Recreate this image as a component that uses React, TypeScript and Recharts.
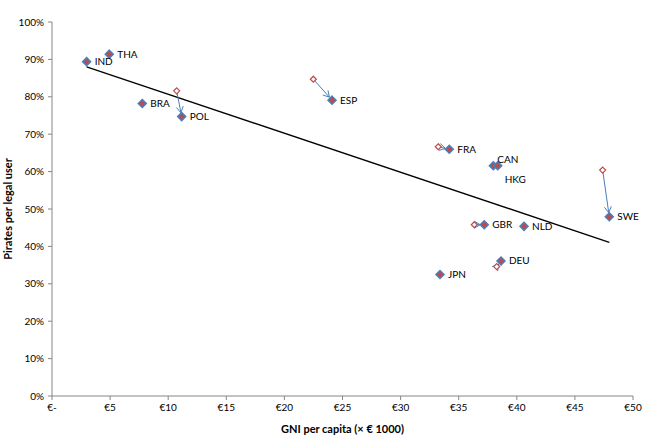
import React from "react"
import {
  ScatterChart,
  Scatter,
  XAxis,
  YAxis,
  ReferenceLine,
  LabelList,
} from "recharts"

// current position per country (GNI per capita in € 1000, pirates per legal user in %)
const countries = ["IND", "THA", "BRA", "POL", "ESP", "FRA", "CAN", "HKG", "GBR", "NLD", "DEU", "JPN", "SWE"]
const gniNow = [2.98, 4.93, 7.77, 11.16, 24.1, 34.19, 37.98, 38.36, 37.2, 40.62, 38.64, 33.39, 47.96]
const piratesNow = [89.4, 91.4, 78.2, 74.7, 79.1, 65.96, 61.58, 61.58, 45.8, 45.37, 36.1, 32.5, 47.94]

// earlier position for the countries that moved
const movedCountries = ["POL", "ESP", "FRA", "GBR", "DEU", "SWE"]
const gniBefore = [10.73, 22.49, 33.24, 36.34, 38.27, 47.39]
const piratesBefore = [81.6, 84.7, 66.65, 45.8, 34.6, 60.4]

// trend line end points
const trendGni = [2.98, 47.96]
const trendPirates = [88.0, 41.1]

const xTicks = [0, 5, 10, 15, 20, 25, 30, 35, 40, 45, 50]
const yTicks = [0, 10, 20, 30, 40, 50, 60, 70, 80, 90, 100]

const nowData = countries.map((c, i) => ({ x: gniNow[i], y: piratesNow[i], label: c }))
const beforeData = movedCountries.map((c, i) => ({ x: gniBefore[i], y: piratesBefore[i], label: c }))

const BLUE = "#4a7ebb"
const RED = "#be4b48"
const AXIS = "#868686"
const FONT = "Lato, 'Liberation Sans', sans-serif"

// label nudges where the default right-hand placement would overlap
const labelNudge: Record<string, [number, number]> = {
  CAN: [-4, -6],
  HKG: [-1, 14],
}

const Diamond = (props: any) => {
  const { cx, cy } = props
  const r = 4
  return (
    <path
      d={`M${cx},${cy - r}L${cx + r},${cy}L${cx},${cy + r}L${cx - r},${cy}Z`}
      fill={RED}
      stroke={BLUE}
      strokeWidth={1.5}
    />
  )
}

const OpenDiamond = (props: any) => {
  const { cx, cy } = props
  const r = 3
  return (
    <path
      d={`M${cx},${cy - r}L${cx + r},${cy}L${cx},${cy + r}L${cx - r},${cy}Z`}
      fill="#fff"
      stroke={RED}
      strokeWidth={1.2}
    />
  )
}

const Arrow = (props: any) => {
  const { x1, y1, x2, y2 } = props
  if ([x1, y1, x2, y2].some((v) => v == null || isNaN(v))) return <g />
  const dx = x2 - x1
  const dy = y2 - y1
  const len = Math.sqrt(dx * dx + dy * dy) || 1
  const ux = dx / len
  const uy = dy / len
  // stop a little short of the marker
  const tx = x2 - ux * 4
  const ty = y2 - uy * 4
  const h = 6
  const w = 3.5
  const bx = tx - ux * h
  const by = ty - uy * h
  return (
    <g>
      <line x1={x1} y1={y1} x2={tx} y2={ty} stroke={BLUE} strokeWidth={1} />
      <path
        d={`M${bx - uy * w},${by + ux * w}L${tx},${ty}L${bx + uy * w},${by - ux * w}`}
        fill="none"
        stroke={BLUE}
        strokeWidth={1}
      />
    </g>
  )
}

const CountryLabel = (props: any) => {
  const { x, y, width, height, value } = props
  const [ndx, ndy] = labelNudge[value] || [0, 0]
  const cx = x + width / 2
  const cy = y + height / 2
  return (
    <text
      x={cx + 8 + ndx}
      y={cy + ndy}
      dy="0.35em"
      fontSize={10}
      fontFamily={FONT}
      fill="#000"
    >
      {value}
    </text>
  )
}

const YTitle = (props: any) => {
  const { viewBox } = props
  const cy = viewBox.y + viewBox.height / 2
  const cx = 12
  return (
    <text
      x={cx}
      y={cy}
      transform={`rotate(-90 ${cx} ${cy})`}
      textAnchor="middle"
      fontSize={11}
      fontWeight="bold"
      fontFamily={FONT}
      fill="#000"
    >
      Pirates per legal user
    </text>
  )
}

export default function App() {
  return (
    <div style={{ position: "absolute", left: 0, top: 0, background: "#fff" }}>
      <ScatterChart width={646} height={437} margin={{ top: 22, right: 13, left: 0, bottom: 0 }}>
        <XAxis
          type="number"
          dataKey="x"
          domain={[0, 50]}
          ticks={xTicks}
          interval={0}
          height={41}
          tickSize={4}
          tickMargin={4}
          stroke={AXIS}
          tick={{ fill: "#000", fontSize: 10, fontFamily: FONT }}
          tickFormatter={(v: number) => (v === 0 ? "€-" : `€${v}`)}
          label={{
            value: "GNI per capita (× € 1000)",
            position: "insideBottom",
            offset: 4,
            fill: "#000",
            fontSize: 11,
            fontWeight: "bold",
            fontFamily: FONT,
          }}
        />
        <YAxis
          type="number"
          dataKey="y"
          domain={[0, 100]}
          ticks={yTicks}
          interval={0}
          width={52}
          tickSize={4}
          tickMargin={4}
          stroke={AXIS}
          tick={{ fill: "#000", fontSize: 10, fontFamily: FONT }}
          tickFormatter={(v: number) => `${v}%`}
          label={{ content: YTitle }}
        />
        <ReferenceLine
          segment={[
            { x: trendGni[0], y: trendPirates[0] },
            { x: trendGni[1], y: trendPirates[1] },
          ]}
          stroke="#000"
          strokeWidth={1.3}
        />
        {beforeData.map((b) => {
          const n = nowData.find((d) => d.label === b.label)!
          return (
            <ReferenceLine
              key={b.label}
              segment={[
                { x: b.x, y: b.y },
                { x: n.x, y: n.y },
              ]}
              shape={Arrow}
            />
          )
        })}
        <Scatter data={beforeData} shape={OpenDiamond} isAnimationActive={false} />
        <Scatter data={nowData} shape={Diamond} isAnimationActive={false}>
          <LabelList dataKey="label" content={CountryLabel} />
        </Scatter>
      </ScatterChart>
    </div>
  )
}
